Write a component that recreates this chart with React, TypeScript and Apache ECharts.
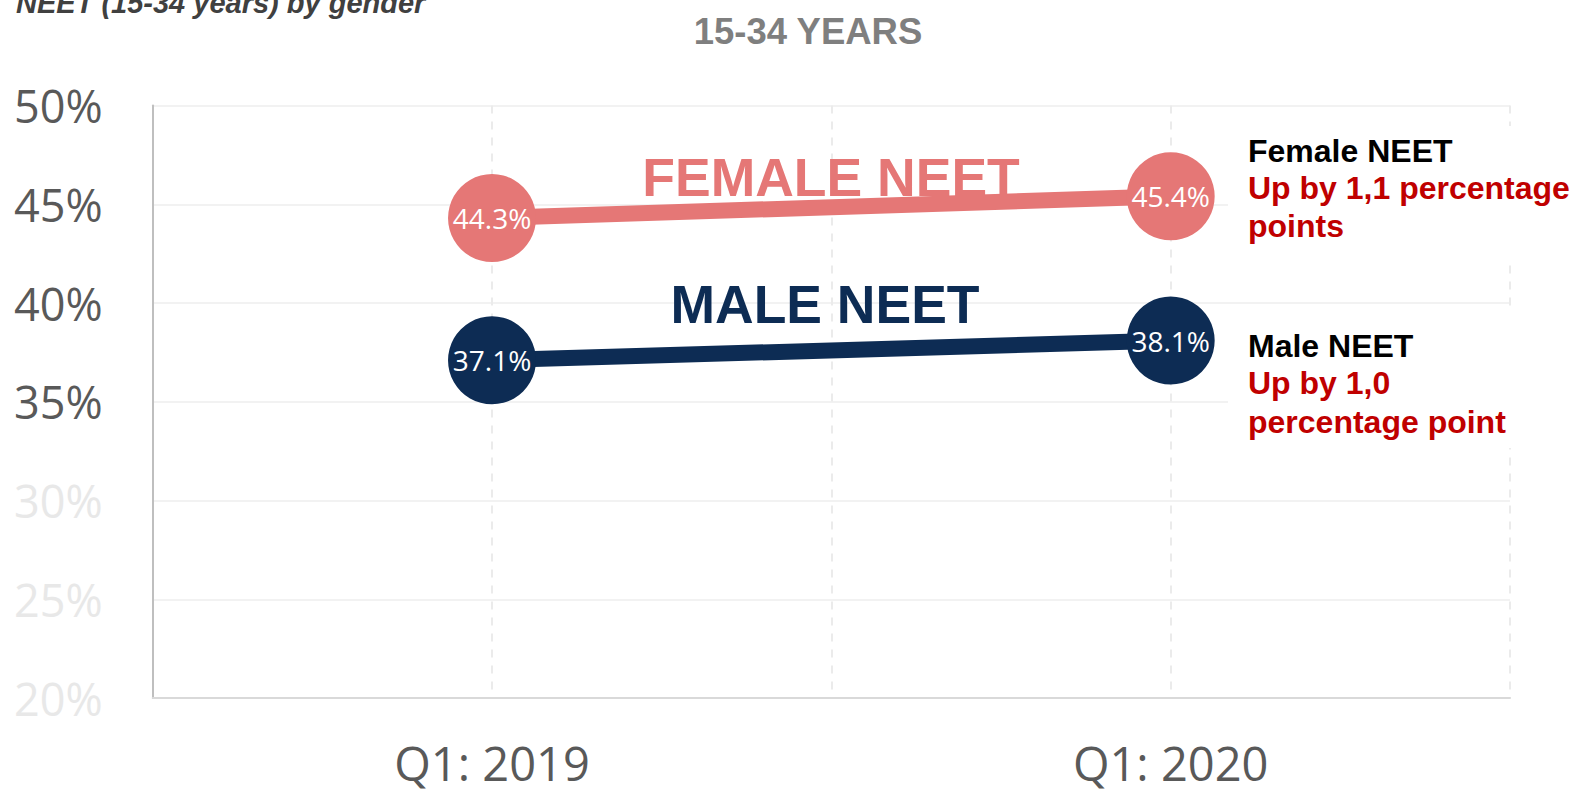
import React, { useEffect, useRef } from "react";
import * as echarts from "echarts";

const categories = ["Q1: 2019", "Q1: 2020"];
const femaleValues = [44.3, 45.4];
const maleValues = [37.1, 38.1];
const yTicks = [20, 25, 30, 35, 40, 45, 50];
const lightTicks = [20, 25, 30];

const FEMALE = "#e57776";
const MALE = "#0d2c54";
const SEGOE = "'Open Sans', 'Noto Sans', sans-serif";
const ARIAL = "'Liberation Sans', Arial, sans-serif";

export default function App() {
  const ref = useRef<HTMLDivElement>(null);
  useEffect(() => {
    if (!ref.current) return;
    const chart = echarts.init(ref.current, undefined, { renderer: "svg" });
    const xPos = (i: number) => i * 2 + 1;
    const toPts = (vals: number[]) => vals.map((v, i) => [xPos(i), v]);
    const lineSeries = (name: string, vals: number[], color: string) => ({
      name,
      type: "line",
      z: 3,
      data: toPts(vals),
      symbol: "circle",
      symbolSize: 88,
      lineStyle: { color, width: 16 },
      itemStyle: { color, borderWidth: 0 },
      label: {
        show: true,
        position: "inside",
        color: "#ffffff",
        fontFamily: SEGOE,
        fontSize: 28,
        formatter: (p: any) => `${p.value[1].toFixed(1)}%`,
      },
    });
    const txt = (
      text: string,
      x: number,
      y: number,
      fontSize: number,
      color: string,
      align = "left",
      fontStyle = "normal"
    ) => ({
      type: "text",
      x,
      y,
      z: 10,
      style: {
        text,
        fill: color,
        font: `${fontStyle} bold ${fontSize}px ${ARIAL}`,
        textAlign: align,
        textVerticalAlign: "middle",
      },
    });
    chart.setOption({
      animation: false,
      grid: { left: 152.7, top: 105.5, right: 65, bottom: 91, containLabel: false },
      xAxis: {
        type: "value",
        min: 0,
        max: categories.length * 2,
        interval: 1,
        axisLine: { show: true, onZero: false, lineStyle: { color: "#d9d9d9", width: 2 } },
        axisTick: { show: false },
        splitLine: { show: true, lineStyle: { color: "#ebebeb", width: 2, type: [8, 8] } },
        axisLabel: {
          margin: 41,
          color: "#595959",
          fontFamily: SEGOE,
          fontSize: 47,
          formatter: (v: number) => (v % 2 === 1 ? categories[(v - 1) / 2] : ""),
        },
      },
      yAxis: {
        type: "value",
        min: yTicks[0],
        max: yTicks[yTicks.length - 1],
        interval: 5,
        axisLine: { show: true, lineStyle: { color: "#bfbfbf", width: 2 } },
        axisTick: { show: false },
        splitLine: { show: true, lineStyle: { color: "#f2f2f2", width: 2 } },
        axisLabel: {
          margin: 50,
          fontFamily: SEGOE,
          fontSize: 45,
          color: (v: any) => (lightTicks.includes(Number(v)) ? "#e8e8e8" : "#595959"),
          formatter: (v: number) => `${v}%`,
        },
      },
      graphic: [
        {
          type: "rect",
          z: 5,
          shape: { x: 1228, y: 126, width: 347, height: 132 },
          style: { fill: "#ffffff" },
        },
        {
          type: "rect",
          z: 5,
          shape: { x: 1228, y: 310, width: 347, height: 138 },
          style: { fill: "#ffffff" },
        },
        txt("NEET (15-34 years) by gender", 16, 3, 29, "#404040", "left", "italic"),
        txt("15-34 YEARS", 808, 31, 36.5, "#7f7f7f", "center"),
        txt("FEMALE NEET", 831, 177, 53.5, FEMALE, "center"),
        txt("MALE NEET", 825, 304, 53.5, MALE, "center"),
        txt("Female NEET", 1248, 150.5, 32, "#000000"),
        txt("Up by 1,1 percentage", 1248, 188, 32, "#c00000"),
        txt("points", 1248, 226, 32, "#c00000"),
        txt("Male NEET", 1248, 345.5, 32, "#000000"),
        txt("Up by 1,0", 1248, 383, 32, "#c00000"),
        txt("percentage point", 1248, 421.5, 32, "#c00000"),
      ],
      series: [
        lineSeries("Female NEET", femaleValues, FEMALE),
        lineSeries("Male NEET", maleValues, MALE),
      ],
    });
    return () => chart.dispose();
  }, []);
  return (
    <div
      ref={ref}
      style={{ position: "fixed", left: 0, top: 0, width: 1575, height: 789, background: "#ffffff" }}
    />
  );
}
